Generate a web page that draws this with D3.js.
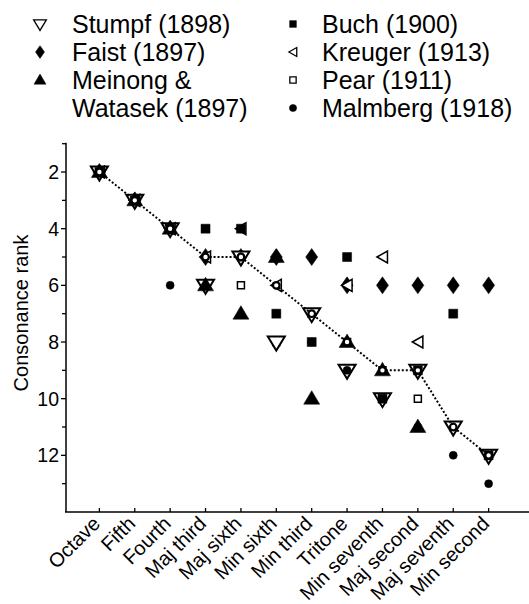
<!DOCTYPE html>
<html>
<head>
<meta charset="utf-8">
<script src="https://cdn.jsdelivr.net/npm/d3@7"></script>
<style>
  body { margin: 0; background: #fff; }
  svg text { font-family: "Liberation Sans", Arial, Helvetica, sans-serif; fill: #000; }
</style>
</head>
<body>
<svg id="chart" width="529" height="604"></svg>
<script>
// intervals along the x axis
const intervals = ["Octave", "Fifth", "Fourth", "Maj third", "Maj sixth", "Min sixth",
  "Min third", "Tritone", "Min seventh", "Maj second", "Maj seventh", "Min second"];

// consonance ranks (null = no point)
const stumpf   = [2, 3, 4, 6, 5, 8, 7, 9, 10, 9, 11, 12];
const faist    = [2, 3, 4, 5, 5, 5, 5, 6, 6, 6, 6, 6];
const meinong  = [2, 3, 4, 6, 7, 5, 10, 8, 9, 11, null, null];
const buch     = [2, 3, 4, 4, 4, 7, 8, 5, 10, 9, 7, 12];
const kreuger  = [2, 3, 4, 5, 4, 6, null, 6, 5, 8, null, null];
const pear     = [2, 3, 4, 6, 6, 8, 7, 8, 9, 10, 11, 12];
const malmberg = [2, 3, 6, 5, 5, 7, 8, 9, 10, 11, 12, 13];
const meanRank = [2, 3, 4, 5, 5, 6, 7, 8, 9, 9, 11, 12];

const yTicks = [2, 4, 6, 8, 10, 12];
const yMinorTicks = [1, 3, 5, 7, 9, 11, 13];

// marker shapes
const shapes = {
  triDown: (s) => `M${-8.5 * s},${-5.5 * s}L${8.5 * s},${-5.5 * s}L0,${8.5 * s}Z`,
  triUp: (s) => `M0,${-8 * s}L${8 * s},${5.5 * s}L${-8 * s},${5.5 * s}Z`,
  triLeft: (s) => `M${-5.5 * s},0L${5 * s},${-6 * s}L${5 * s},${6 * s}Z`,
  diamond: (s) => `M0,${-8.5 * s}L${6 * s},0L0,${8.5 * s}L${-6 * s},0Z`,
  square: (s) => `M${-4.5 * s},${-4.5 * s}h${9 * s}v${9 * s}h${-9 * s}Z`,
  smallSquare: (s) => `M${-3.5 * s},${-3.5 * s}h${7 * s}v${7 * s}h${-7 * s}Z`,
  dot: (s) => d3.symbol(d3.symbolCircle, Math.PI * 16 * s * s)()
};

const series = {
  stumpf:   { name: "Stumpf (1898)", values: stumpf, shape: "triDown", open: true },
  faist:    { name: "Faist (1897)", values: faist, shape: "diamond", open: false },
  meinong:  { name: ["Meinong &", "Watasek (1897)"], values: meinong, shape: "triUp", open: false },
  buch:     { name: "Buch (1900)", values: buch, shape: "square", open: false },
  kreuger:  { name: "Kreuger (1913)", values: kreuger, shape: "triLeft", open: true },
  pear:     { name: "Pear (1911)", values: pear, shape: "smallSquare", open: true },
  malmberg: { name: "Malmberg (1918)", values: malmberg, shape: "dot", open: false }
};

// drawing order so that overlaps look like the print
const drawOrder = ["pear", "faist", "stumpf", "malmberg", "kreuger", "buch", "meinong"];

const svg = d3.select("#chart");

const x = d3.scaleLinear().domain([0, 13]).range([64, 524]);
const y = d3.scaleLinear().domain([1, 14]).range([143.7, 512]);

// axes
const yAxis = svg.append("g").attr("transform", "translate(66,0)");
yAxis.append("line")
  .attr("x1", 0).attr("x2", 0)
  .attr("y1", y(1) - 1).attr("y2", y(14))
  .attr("stroke", "#000").attr("stroke-width", 1.5);
yAxis.selectAll(".major")
  .data(yTicks)
  .enter().append("line")
  .attr("x1", -5).attr("x2", 0)
  .attr("y1", (d) => y(d)).attr("y2", (d) => y(d))
  .attr("stroke", "#000").attr("stroke-width", 1.3);
yAxis.selectAll(".minor")
  .data(yMinorTicks)
  .enter().append("line")
  .attr("x1", -4).attr("x2", 0)
  .attr("y1", (d) => y(d)).attr("y2", (d) => y(d))
  .attr("stroke", "#000").attr("stroke-width", 1.3);
yAxis.selectAll(".ylab")
  .data(yTicks)
  .enter().append("text")
  .attr("x", -7)
  .attr("y", (d) => y(d))
  .attr("dy", "0.36em")
  .attr("text-anchor", "end")
  .style("font-size", "19.5px")
  .text((d) => d);

svg.append("text")
  .attr("transform", "rotate(-90)")
  .attr("x", -313)
  .attr("y", 28)
  .attr("text-anchor", "middle")
  .style("font-size", "20px")
  .text("Consonance rank");

const xAxis = svg.append("g").attr("transform", `translate(0,${y(14)})`);
xAxis.append("line")
  .attr("x1", 65).attr("x2", 529)
  .attr("y1", 0).attr("y2", 0)
  .attr("stroke", "#000").attr("stroke-width", 1.5);
xAxis.selectAll(".xtick")
  .data(intervals)
  .enter().append("line")
  .attr("x1", (d, i) => x(i + 1)).attr("x2", (d, i) => x(i + 1))
  .attr("y1", 0).attr("y2", -4)
  .attr("stroke", "#000").attr("stroke-width", 1.3);
xAxis.selectAll(".xlab")
  .data(intervals)
  .enter().append("text")
  .attr("transform", (d, i) => `translate(${x(i + 1) - 8},3) rotate(-45)`)
  .attr("text-anchor", "end")
  .attr("dy", "0.7em")
  .style("font-size", "20px")
  .text((d) => d);

// markers
drawOrder.forEach((key) => {
  const s = series[key];
  const pts = s.values.map((v, i) => ({ i: i + 1, v: v })).filter((d) => d.v !== null);
  svg.append("g")
    .selectAll("path")
    .data(pts)
    .enter().append("path")
    .attr("transform", (d) => `translate(${x(d.i)},${y(d.v)})`)
    .attr("d", shapes[s.shape](1))
    .attr("fill", s.open ? "#fff" : "#000")
    .attr("stroke", "#000")
    .attr("stroke-width", key === "stumpf" ? 2 : (s.open ? 1.5 : 0.5));
});

// dotted mean line
const line = d3.line()
  .x((d, i) => x(i + 1))
  .y((d) => y(d));

svg.append("path")
  .datum(meanRank)
  .attr("d", line)
  .attr("fill", "none")
  .attr("stroke", "#000")
  .attr("stroke-width", 2)
  .attr("stroke-dasharray", "2,2");

svg.append("g")
  .selectAll("circle")
  .data(meanRank)
  .enter().append("circle")
  .attr("cx", (d, i) => x(i + 1))
  .attr("cy", (d) => y(d))
  .attr("r", 3.3)
  .attr("fill", "#fff")
  .attr("stroke", "#000")
  .attr("stroke-width", 2.2);

// legend
const legendItems = [
  { key: "stumpf", col: 0, row: 0 },
  { key: "faist", col: 0, row: 1 },
  { key: "meinong", col: 0, row: 2 },
  { key: "buch", col: 1, row: 0 },
  { key: "kreuger", col: 1, row: 1 },
  { key: "pear", col: 1, row: 2 },
  { key: "malmberg", col: 1, row: 3 }
];
const colMarkX = [40, 293];
const colTextX = [72, 322];
const rowBase = (r) => 33 + r * 28;

const legend = svg.append("g");
legendItems.forEach((it) => {
  const s = series[it.key];
  legend.append("path")
    .attr("transform", `translate(${colMarkX[it.col]},${rowBase(it.row) - 9})`)
    .attr("d", shapes[s.shape](s.shape === "dot" || s.shape === "smallSquare" ? 0.9 : 0.75))
    .attr("fill", s.open ? "#fff" : "#000")
    .attr("stroke", "#000")
    .attr("stroke-width", s.open ? 1.3 : 0.5);
  const names = Array.isArray(s.name) ? s.name : [s.name];
  names.forEach((n, j) => {
    legend.append("text")
      .attr("x", colTextX[it.col])
      .attr("y", rowBase(it.row + j))
      .style("font-size", "25px")
      .text(n);
  });
});
</script>
</body>
</html>
